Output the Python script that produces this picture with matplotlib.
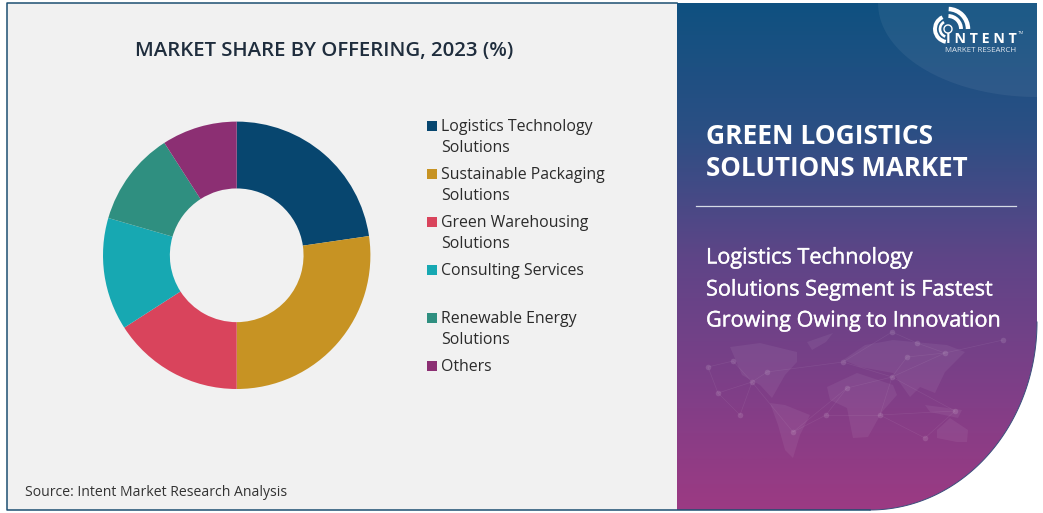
import numpy as np
import matplotlib
matplotlib.use('Agg')
import matplotlib.pyplot as plt
import matplotlib.patheffects as pe
from matplotlib.patches import Rectangle, Polygon, Arc
from matplotlib.colors import LinearSegmentedColormap

plt.rcParams['font.family'] = ['Open Sans', 'DejaVu Sans']

categories = ['Logistics Technology\nSolutions', 'Sustainable Packaging\nSolutions',
              'Green Warehousing\nSolutions', 'Consulting Services',
              'Renewable Energy\nSolutions', 'Others']
shares = [22.7, 27.3, 15.9, 13.6, 11.4, 9.1]
colors = ['#07466f', '#c79323', '#d9445c', '#17a8b2', '#2f8f80', '#8c2f73']
legend_y = [125, 173, 221, 269, 317, 365]

W, H = 1043, 513
fig = plt.figure(figsize=(W / 100, H / 100), dpi=100, facecolor='white')

# background axes in pixel coordinates
bg = fig.add_axes([0, 0, 1, 1])
bg.set_xlim(0, W)
bg.set_ylim(H, 0)
bg.axis('off')

bg.add_patch(Rectangle((7, 3), 670, 507, fc='#f1f1f1', ec='none'))
bg.plot([677, 7, 7, 870], [3, 3, 510, 510], color='#1d4f72', lw=1.1, zorder=1.5)

# right panel outline, with the big rounded corner at the bottom
t = np.linspace(0, np.pi / 2, 80)
arc_x = 870 + 167 * np.cos(t)
arc_y = 322 + 188 * np.sin(t)
verts = [(677, 3), (1037, 3)] + list(zip(arc_x, arc_y)) + [(677, 510), (677, 3)]
panel = Polygon(verts, closed=True, fc='none', ec='none')
bg.add_patch(panel)

grad = LinearSegmentedColormap.from_list('panel', ['#0f5180', '#2b4f84', '#5e4587', '#7d3f88', '#9c3a83'])
img = bg.imshow(np.linspace(0, 1, 256).reshape(-1, 1), cmap=grad, aspect='auto',
                extent=(677, 1037, 510, 3), zorder=1)
img.set_clip_path(panel)
bg.set_xlim(0, W)
bg.set_ylim(H, 0)
bg.plot(arc_x, arc_y, color='#3a4f7c', lw=0.7, zorder=2)

# lighter swoosh in the top right corner
t2 = np.linspace(0, np.pi / 2, 40)
sw_x = 1037 - 159 * np.cos(t2)
sw_y = 3 + 94 * np.sin(t2)
bg.add_patch(Polygon(list(zip(sw_x, sw_y)) + [(1037, 3)], closed=True, fc='white', alpha=0.06, ec='none', zorder=2))

# faint world map
land = [
    [(730, 347), (760, 343), (797, 352), (797, 362), (785, 375), (772, 398), (760, 385), (742, 375)],
    [(807, 342), (833, 333), (826, 342), (812, 350)],
    [(770, 403), (785, 405), (810, 415), (800, 435), (793, 458), (785, 450), (778, 425)],
    [(827, 387), (857, 373), (893, 385), (897, 395), (882, 412), (868, 437), (853, 438), (847, 408), (830, 400)],
    [(843, 360), (865, 345), (893, 340), (947, 345), (965, 352), (945, 372), (935, 393), (920, 387), (910, 397),
     (893, 373), (860, 367)],
    [(937, 430), (950, 418), (968, 430), (967, 442), (957, 442), (937, 438)],
    [(925, 405), (962, 410), (958, 418), (930, 412)],
]
for poly in land:
    bg.add_patch(Polygon(poly, closed=True, fc='white', alpha=0.06, ec='none', zorder=2))
nodes_x = [708, 733, 718, 740, 752, 767, 793, 826, 843, 847, 892, 907, 945, 880, 955, 925, 1003, 892, 917]
nodes_y = [367, 361, 393, 415, 382, 372, 432, 415, 362, 388, 377, 357, 353, 415, 411, 438, 340, 332, 343]
links = [(0, 1), (0, 2), (1, 4), (2, 4), (3, 2), (3, 4), (4, 5), (4, 6), (6, 7), (7, 9), (7, 13), (9, 10),
         (8, 10), (8, 5), (10, 11), (10, 12), (10, 13), (13, 14), (13, 15), (11, 12), (12, 16), (8, 17), (17, 18),
         (9, 6), (10, 14), (14, 15), (12, 18)]
for a, b in links:
    bg.plot([nodes_x[a], nodes_x[b]], [nodes_y[a], nodes_y[b]], color='white', alpha=0.07, lw=0.5, zorder=2)
bg.scatter(nodes_x, nodes_y, s=16, color='white', alpha=0.12, lw=0, zorder=2)

# right side text
bg.text(706, 137, 'GREEN LOGISTICS', color='white', fontsize=19, fontweight='bold', va='center', zorder=3)
bg.text(706, 169, 'SOLUTIONS MARKET', color='white', fontsize=18.6, fontweight='bold', va='center', zorder=3)
bg.plot([696, 1016], [206, 206], color='#d5dbe6', lw=0.9, zorder=3)
thick = [pe.withStroke(linewidth=0.25, foreground='white')]
for yy, line in zip([258, 290, 321], ['Logistics Technology', 'Solutions Segment is Fastest', 'Growing Owing to Innovation']):
    bg.text(706, yy, line, color='white', fontsize=15.6, va='center', zorder=3, path_effects=thick)

# logo
for r, a1, a2, lw in [(20, 272, 360, 3.2), (13, 272, 360, 2.8), (13, 100, 245, 2.8), (8, 110, 240, 1.9), (4, 0, 360, 1.0)]:
    bg.add_patch(Arc((948, 29), 2 * r, 2 * r, theta1=a1, theta2=a2, color='white', lw=lw, zorder=3))
bg.text(981, 39, 'I N T E N T', color='white', fontsize=10.3, fontweight='bold', ha='center', va='center', zorder=4)
bg.text(981, 50, 'MARKET RESEARCH', color='#dfe6ee', fontsize=5.7, ha='center', va='center', zorder=4)
bg.text(1021, 33, 'TM', color='#dfe6ee', fontsize=3.2, ha='center', va='center', zorder=4)

# left side texts
bg.text(324, 51, 'MARKET SHARE BY OFFERING, 2023 (%)', color='#1f2d3d', fontsize=14.7, fontweight='semibold',
        ha='center', va='center', zorder=3)
bg.text(25, 493, 'Source: Intent Market Research Analysis', color='#333333', fontsize=10.05, va='center', zorder=3)

# legend placed by hand to keep the reference line spacing
for cat, col, yy in zip(categories, colors, legend_y):
    bg.add_patch(Rectangle((427, yy - 4), 10, 10, fc=col, ec='none', zorder=3))
    for j, part in enumerate(cat.split('\n')):
        bg.text(441, yy + 2 + j * 21.5, part, color='#2b2b2b', fontsize=11.45, va='center', zorder=3)

# donut
cx, cy, rad = 236.7, 255.3, 133.7
ax = fig.add_axes([(cx - rad) / W, 1 - (cy + rad) / H, 2 * rad / W, 2 * rad / H])
ax.pie(shares, colors=colors, startangle=90, counterclock=False, radius=1,
       wedgeprops=dict(width=0.5, edgecolor='none'))
ax.set_xlim(-1, 1)
ax.set_ylim(-1, 1)
ax.patch.set_alpha(0)

fig.savefig('out.png', dpi=100, facecolor='white')
